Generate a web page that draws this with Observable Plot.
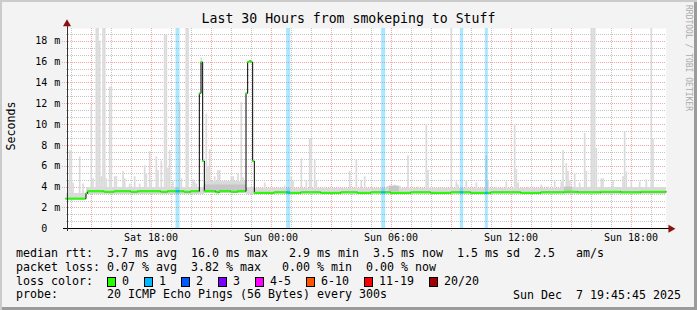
<!DOCTYPE html>
<html><head><meta charset="utf-8">
<script src="https://cdn.jsdelivr.net/npm/d3@7"></script>
<script src="https://cdn.jsdelivr.net/npm/@observablehq/plot@0.6"></script>
<style>
html,body{margin:0;padding:0;background:#fff}
#wrap{position:relative;width:697px;height:310px;background:#f3f3f3;overflow:hidden;
  box-shadow: inset 2px 2px 0 #cbcbcb, inset -3px -3px 0 #9b9b9b;
  font-family:"DejaVu Sans Mono",monospace;color:#000}
#wrap svg{position:absolute;left:0;top:0}
#title{position:absolute;left:0;top:12.3px;width:697px;text-align:center;font-size:13.2px;line-height:13.2px;white-space:pre}
#ylab{position:absolute;left:10.5px;top:126px;transform:translate(-50%,-50%) rotate(-90deg);font-size:11.63px;white-space:nowrap}
#credit{position:absolute;left:684px;top:5px;writing-mode:vertical-rl;font-size:8px;line-height:8px;color:#ababab;white-space:nowrap}
#legend{position:absolute;left:16px;top:247.1px;margin:0;font-family:"DejaVu Sans Mono",monospace;font-size:11.63px;line-height:13.8px;white-space:pre}
#stamp{position:absolute;right:16px;top:288.5px;font-size:11.63px;line-height:13.8px;white-space:pre}
.box{display:inline-block;box-sizing:border-box;width:9px;height:10px;border:1px solid #000;vertical-align:-2px;margin-right:6px}
.item{margin-right:15px}
</style></head>
<body>
<div id="wrap">
  <div id="title"></div>
  <div id="ylab">Seconds</div>
  <div id="credit">RRDTOOL / TOBI OETIKER</div>
  <div id="legend"></div>
  <div id="stamp"></div>
</div>
<script>
// ---------------- data ----------------
const titleText = "Last 30 Hours from smokeping to Stuff";
const rangeStart = "Sat 13:45:45";
const rangeEnd = "Sun 19:45:45";

// median rtt (ms): value holds from its time until the next entry
const medianTimes = ["Sat 13:45","Sat 14:45","Sat 14:50","Sat 15:40","Sat 16:10","Sat 17:00","Sat 17:20","Sat 18:30","Sat 18:50","Sat 19:40","Sat 20:00",
  "Sat 20:25","Sat 20:30","Sat 20:35","Sat 20:40","Sat 21:15","Sat 21:25","Sat 22:00","Sat 22:20",
  "Sat 22:45","Sat 22:50","Sat 22:55","Sat 23:00","Sat 23:05","Sat 23:10",
  "Sun 00:10","Sun 00:50","Sun 01:30","Sun 02:30","Sun 03:30","Sun 04:20","Sun 05:00","Sun 06:00","Sun 07:00","Sun 08:00",
  "Sun 09:00","Sun 10:00","Sun 11:00","Sun 12:30","Sun 13:30","Sun 14:40","Sun 15:20","Sun 16:30","Sun 17:30","Sun 18:30"];
const medianValues = [2.9,3.4,3.6,3.55,3.6,3.55,3.6,3.55,3.6,3.55,3.6,
  13.0,16.0,6.5,3.6,3.5,3.6,3.55,3.6,
  13.0,16.0,16.1,16.0,6.5,3.45,
  3.5,3.45,3.5,3.45,3.5,3.45,3.5,3.45,3.5,3.45,
  3.5,3.45,3.5,3.45,3.5,3.55,3.5,3.55,3.5,3.55];

// smoke: the body of the ping spread (ms)
const bandTimes = ["Sat 13:45","Sat 14:45","Sat 20:40","Sat 22:45","Sat 23:10","Sun 05:50","Sun 06:30","Sun 14:30"];
const bandLow   = [2.7, 3.3, 3.35, 3.3, 3.25, 3.25, 3.25, 3.3];
const bandHigh  = [3.35, 3.95, 4.5, 3.95, 3.85, 4.1, 3.85, 4.0];

// denser (darker) smoke patches
const denseStart = ["Sat 20:40","Sun 05:55","Sun 14:40"];
const denseEnd   = ["Sat 22:45","Sun 06:25","Sun 15:05"];
const denseLow   = [3.55, 3.55, 3.55];
const denseHigh  = [4.2, 4.1, 4.0];

// slowest ping per 5-minute step (ms), the tall smoke columns
const spikeTimes = ["Sat 13:50","Sat 13:55","Sat 14:00","Sat 14:05","Sat 14:25","Sat 14:35","Sat 15:00","Sat 15:05","Sat 15:15","Sat 15:20","Sat 15:25","Sat 15:30","Sat 15:35","Sat 15:40","Sat 15:45",
  "Sat 15:55","Sat 16:00","Sat 16:10","Sat 16:15","Sat 16:35","Sat 16:40","Sat 16:55","Sat 17:10","Sat 17:25","Sat 17:40","Sat 17:45","Sat 17:55","Sat 18:00","Sat 18:15","Sat 18:20",
  "Sat 18:30","Sat 18:40","Sat 18:45","Sat 18:50","Sat 18:55","Sat 19:05","Sat 19:25","Sat 19:30","Sat 19:45","Sat 19:50","Sat 20:05","Sat 20:10","Sat 20:15","Sat 20:30",
  "Sat 20:45","Sat 20:50","Sat 20:55","Sat 21:10","Sat 21:20","Sat 21:25","Sat 21:35","Sat 21:45","Sat 22:00","Sat 22:05","Sat 22:20","Sat 22:30","Sat 22:35","Sat 23:40",
  "Sun 00:20","Sun 00:40","Sun 01:00","Sun 01:05","Sun 01:30","Sun 01:45","Sun 01:55","Sun 02:00","Sun 02:10","Sun 02:15","Sun 02:40","Sun 03:55","Sun 04:15","Sun 04:30","Sun 04:40","Sun 05:00",
  "Sun 06:10","Sun 06:50","Sun 07:20","Sun 07:45","Sun 07:50","Sun 08:25","Sun 09:00","Sun 09:15","Sun 09:20","Sun 09:45","Sun 10:15","Sun 10:45","Sun 10:50","Sun 11:15","Sun 11:45",
  "Sun 12:10","Sun 12:15","Sun 12:20","Sun 12:50","Sun 13:30","Sun 13:50","Sun 14:10","Sun 14:30","Sun 14:35","Sun 14:45","Sun 14:50","Sun 14:55","Sun 15:10","Sun 15:25","Sun 15:40","Sun 15:45",
  "Sun 16:00","Sun 16:05","Sun 16:10","Sun 16:15","Sun 16:30","Sun 16:35","Sun 17:05","Sun 17:35","Sun 17:40","Sun 17:45","Sun 18:00","Sun 18:25","Sun 18:45","Sun 19:00","Sun 19:05","Sun 19:15","Sun 19:30"];
const spikeTops = [4.5,7.5,7.5,4.4,6.9,4.3,11.8,4.8,19.5,19.5,18.0,5.0,19.5,19.5,4.8,
  13.6,13.6,5.0,5.0,5.5,4.8,4.3,5.0,4.3,6.05,5.3,7.4,4.6,6.9,5.6,
  6.5,18.6,18.6,5.8,7.5,4.5,12.1,4.8,19.5,19.5,4.7,4.5,4.3,16.4,
  11.0,6.0,7.6,5.0,5.6,5.6,4.4,4.6,5.0,5.0,5.3,12.1,4.9,4.4,
  3.9,4.1,5.0,4.6,6.7,4.6,8.6,8.6,6.6,4.6,4.0,5.5,6.6,4.6,5.0,4.0,
  4.2,7.0,4.0,10.0,5.6,3.9,19.5,4.5,4.2,4.6,4.4,7.0,4.6,4.0,4.5,
  10.0,5.7,4.4,4.0,4.2,4.0,4.6,4.5,7.5,6.25,5.5,4.6,5.3,4.4,9.15,5.5,
  19.5,19.5,19.5,7.7,4.8,4.8,4.6,5.0,9.3,5.45,4.5,4.5,4.7,19.5,8.6,3.9,3.9];

// steps with one lost ping of 20
const lossStart = ["Sat 19:15","Sun 00:47","Sun 05:32","Sun 09:28","Sun 10:43"];
const lossEnd   = ["Sat 19:27","Sun 00:59","Sun 05:44","Sun 09:38","Sun 10:52"];
const lossCount = [1, 1, 1, 1, 1];

const lossLabels = ["0","1","2","3","4-5","6-10","11-19","20/20"];
const lossColors = ["#26ff00","#00b8ff","#0059ff","#7e00ff","#ff00ff","#ff5500","#ff0000","#a10000"];

const yTicks = [0,2,4,6,8,10,12,14,16,18];
const yUnit = "m";

const legendRows = [
  "median rtt:  3.7 ms avg  16.0 ms max   2.9 ms min  3.5 ms now  1.5 ms sd  2.5   am/s",
  "packet loss: 0.07 % avg  3.82 % max   0.00 % min  0.00 % now"
];
const probeText = "probe:       20 ICMP Echo Pings (56 Bytes) every 300s";
const stampText = "Sun Dec  7 19:45:45 2025";

// ---------------- build ----------------
function T(s) {
  const [d, hm] = s.split(" ");
  const [h, m, sec] = hm.split(":").map(Number);
  return new Date(Date.UTC(2025, 11, d === "Sat" ? 6 : 7, h, m, sec || 0));
}
const start = T(rangeStart), end = T(rangeEnd);
const STEP = 5 * 60 * 1000;
const yMax = 19.22;

const median = medianTimes.map((s, i) => ({t: T(s), v: medianValues[i]}));
median.forEach((d, i) => d.t2 = i + 1 < median.length ? median[i + 1].t : end);
const medianAt = (t) => { let v = median[0].v; for (const d of median) if (d.t <= t) v = d.v; return v; };
const medianLine = [...median.map(d => ({t: d.t, v: d.v})), {t: end, v: median[median.length - 1].v}];

const band = bandTimes.map((s, i) => ({t1: T(s), t2: i + 1 < bandTimes.length ? T(bandTimes[i + 1]) : end, lo: bandLow[i], hi: bandHigh[i]}));
const dense = denseStart.map((s, i) => ({t1: T(s), t2: T(denseEnd[i]), lo: denseLow[i], hi: denseHigh[i]}));
const spikes = spikeTimes.map((s, i) => ({t1: T(s), t2: new Date(+T(s) + STEP), lo: medianAt(T(s)) - 0.2, hi: spikeTops[i]}));
const loss = lossStart.map((s, i) => ({t1: T(s), t2: T(lossEnd[i]), n: lossCount[i], v: medianAt(T(s))}));

const hours = d3.utcHour.range(d3.utcHour.ceil(start), end);
const majorHours = hours.filter(d => d.getUTCHours() % 3 === 0);
const minorHours = hours.filter(d => d.getUTCHours() % 3 !== 0);
const labelHours = hours.filter(d => d.getUTCHours() % 6 === 0);
const minorY = d3.range(1, 29).filter(k => k % 3 !== 0).map(k => k * 2 / 3);
const majorY = yTicks.filter(v => v > 0);

const font = "DejaVu Sans Mono";
const below = -3 / 10.42;

const chart = Plot.plot({
  width: 697, height: 245,
  marginLeft: 65.75, marginRight: 31.25, marginTop: 28, marginBottom: 16.7,
  x: {type: "utc", domain: [start, end], axis: null},
  y: {domain: [0, yMax], axis: null},
  style: {background: "transparent", fontFamily: font, fontSize: "10px", color: "#000", overflow: "visible"},
  marks: [
    Plot.frame({fill: "white", stroke: "none"}),
    Plot.ruleX(minorHours, {y1: below, y2: yMax, stroke: "#c4c4c4", strokeDasharray: "1,1", shapeRendering: "crispEdges"}),
    Plot.ruleY(minorY, {stroke: "#c4c4c4", strokeDasharray: "1,1", shapeRendering: "crispEdges"}),
    Plot.ruleX(majorHours, {y1: below, y2: yMax, stroke: "#f4a6a6", strokeDasharray: "1,1", shapeRendering: "crispEdges"}),
    Plot.ruleY(majorY, {insetLeft: -4, stroke: "#f4a6a6", strokeDasharray: "1,1", shapeRendering: "crispEdges"}),
    Plot.rect(band, {x1: "t1", x2: "t2", y1: "lo", y2: "hi", fill: "#dadada", shapeRendering: "crispEdges"}),
    Plot.rect(spikes, {x1: "t1", x2: "t2", y1: "lo", y2: "hi", fill: "#dadada", clip: true}),
    Plot.rect(dense, {x1: "t1", x2: "t2", y1: "lo", y2: "hi", fill: "#c6c6c6"}),
    Plot.rect(loss, {x1: "t1", x2: "t2", y1: 0, y2: yMax, fill: d => lossColors[d.n], fillOpacity: 0.33}),
    Plot.line(medianLine, {x: "t", y: "v", curve: "step-after", stroke: "#000", strokeWidth: 1}),
    Plot.ruleY(median, {y: "v", x1: "t", x2: "t2", stroke: lossColors[0], strokeWidth: 2}),
    Plot.ruleY(loss, {y: "v", x1: "t1", x2: "t2", stroke: d => lossColors[d.n], strokeWidth: 2}),
    Plot.ruleY([0], {insetLeft: -3, insetRight: -4, stroke: "#000", shapeRendering: "crispEdges"}),
    Plot.ruleX([start], {y1: below, y2: yMax + 0.4, dx: 0.75, stroke: "#333", shapeRendering: "crispEdges"}),
    Plot.dot([{t: end, v: 0}], {x: "t", y: "v", symbol: "triangle", rotate: 90, r: 3, dx: 4.5, fill: "#8b1010", stroke: "none"}),
    Plot.dot([{t: start, v: yMax}], {x: "t", y: "v", symbol: "triangle", r: 3, dx: 0.75, dy: -4.5, fill: "#8b1010", stroke: "none"}),
    Plot.axisX(labelHours, {anchor: "bottom", tickSize: 0, tickPadding: 5, tickFormat: d3.utcFormat("%a %H:%M"), fontSize: 10, fontFamily: font, fill: "#000"}),
    Plot.axisY(yTicks, {anchor: "left", tickSize: 0, tickPadding: 19, tickFormat: d => String(d), fontSize: 10, fontFamily: font, fill: "#000"}),
    Plot.axisY(yTicks, {anchor: "left", tickSize: 0, tickPadding: 6, tickFormat: d => d === 0 ? "" : yUnit, fontSize: 10, fontFamily: font, fill: "#000"})
  ]
});
document.getElementById("wrap").prepend(chart);

document.getElementById("title").textContent = titleText;
const legend = document.getElementById("legend");
legend.textContent = legendRows.join("\n") + "\n";
const row3 = document.createElement("span");
row3.append("loss color:  ");
lossLabels.forEach((lab, i) => {
  const b = document.createElement("span");
  b.className = "box"; b.style.background = lossColors[i];
  const l = document.createElement("span");
  l.className = "item"; l.textContent = lab;
  row3.append(b, l);
});
legend.append(row3, "\n" + probeText);
document.getElementById("stamp").textContent = stampText;
</script>
</body></html>
